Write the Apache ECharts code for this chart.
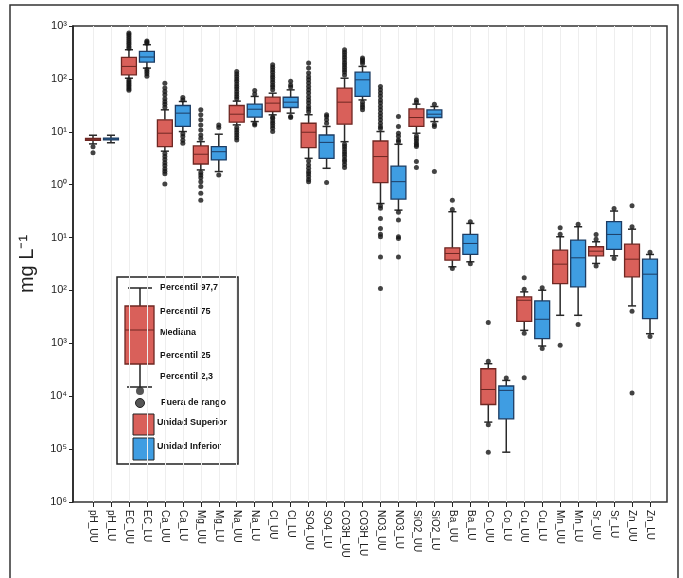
<!DOCTYPE html>
<html><head><meta charset="utf-8">
<script src="https://cdn.jsdelivr.net/npm/echarts/dist/echarts.min.js"></script>
<style>html,body{margin:0;padding:0;background:#fff}#c{width:683px;height:578px}</style>
</head><body><div id="c"></div><script>
const categories = ['pH_UU','pH_LU','EC_UU','EC_LU','Ca_UU','Ca_LU','Mg_UU','Mg_LU','Na_UU','Na_LU','Cl_UU','Cl_LU','SO4_UU','SO4_LU','CO3H_UU','CO3H_LU','NO3_UU','NO3_LU','SiO2_UU','SiO2_LU','Ba_UU','Ba_LU','Co_UU','Co_LU','Cu_UU','Cu_LU','Mn_UU','Mn_LU','Sr_UU','Sr_LU','Zn_UU','Zn_LU'];
const lowWhisker = [5.9,6.2,103,160,4.3,10.1,1.9,1.77,13.5,15.6,20.9,22.5,3.15,2.04,6.5,40,0.44,0.33,9.4,15.6,0.028,0.0348,3.24e-5,8.75e-6,1.76e-3,8.9e-4,3.39e-3,3.39e-3,0.0324,0.0452,5.1e-3,1.52e-3];
const q1 = [6.9,7.0,119,208,5.25,12.6,2.46,2.93,15.2,18.9,24.2,28.8,5.0,3.15,13.9,46.6,1.09,0.535,12.6,18.6,0.0373,0.0479,6.98e-5,3.74e-5,2.61e-3,1.23e-3,0.0135,0.0117,0.0452,0.0596,0.0181,2.94e-3];
const median = [7.2,7.3,172,259,9.4,22.5,3.76,4.2,21.5,26.7,34.8,36.3,9.8,6.3,36.3,96,3.4,1.14,18.6,21.5,0.05,0.0774,1.34e-4,1.29e-4,6.52e-3,2.85e-3,0.0314,0.0414,0.0553,0.1146,0.039,0.0203];
const q3 = [7.5,7.6,255,331,16.8,31.4,5.4,5.25,31.4,33.3,45.2,45,14.5,8.7,67,134,6.7,2.25,27.1,26,0.064,0.1146,3.31e-4,1.56e-4,7.57e-3,6.35e-3,0.0578,0.0893,0.067,0.2,0.0752,0.039];
const highWhisker = [8.6,8.6,356,443,26,37.4,6.5,9.0,38,46.6,53.7,62,21,12.6,103,172,10.1,5.8,33.3,30,0.308,0.185,4.12e-4,1.99e-4,9.4e-3,0.0101,0.1035,0.16,0.0832,0.317,0.144,0.0479];
const outliers = [
  [5.2,4.0],
  [],
  [380,410,450,490,530,580,630,690,740,95,88,82,76,70,65,61],
  [470,500,520,150,138,125,112],
  [29,33,37,42,50,58,67,83,3.9,3.4,3.0,2.6,2.3,2.0,1.8,1.6,1.03],
  [40,44.6,9.2,8.1,6.9,6.1],
  [7.5,8.7,10.8,13.5,16.8,21,26,1.7,1.52,1.35,1.14,0.92,0.69,0.51],
  [12,13.5,1.52],
  [42,46.6,52,58,65,72,80,90,100,111,124,138,12,10.8,9.7,8.7,7.8,7.0],
  [52,60,14.2,13.5],
  [62,70,77,86,96,107,119,134,149,166,185,19,18,16,14.5,13,11.7,10.1],
  [70,77,90,19.5,18.6],
  [24,27,30,35,40,46,54,62,72,84,96,110,129,160,199,2.8,2.36,2.05,1.77,1.6,1.42,1.25,1.14],
  [14.5,16.8,19.5,20.9,1.1],
  [119,135,149,166,185,205,230,256,286,320,356,5.8,5.25,4.7,4.2,3.8,3.4,3.0,2.73,2.4,2.1],
  [195,214,230,248,36,32,29,26],
  [11.5,12.6,14.5,16.8,19.5,22.5,26,30,35,40,47,54,62,72,0.40,0.36,0.23,0.149,0.115,0.104,0.043,0.0109],
  [6.5,7.0,8.2,9.4,12.6,19.5,0.3,0.214,0.104,0.096,0.043],
  [36,40,8.3,7.5,6.8,6.07,5.6,5.25,2.73,2.1],
  [33,13.8,12.6,1.77],
  [0.51,0.34,0.026],
  [0.2,0.032],
  [4.6e-4,2.47e-3,2.9e-5,8.75e-6],
  [2.2e-4],
  [0.0173,0.0105,1.55e-3,2.24e-4],
  [0.0112,8e-4],
  [0.153,0.115,9.2e-4],
  [0.178,2.26e-3],
  [0.1146,0.093,0.029],
  [0.355,0.040],
  [0.4,0.16,4.04e-3,1.15e-4],
  [0.053,1.35e-3]
];
const yTickLabels = ['10³','10²','10¹','10⁰','10¹','10²','10³','10⁴','10⁵','10⁶'];
const yTickExponents = [3,2,1,0,-1,-2,-3,-4,-5,-6];
const legendLabels = ['Percentil 97,7','Percentil 75','Mediana','Percentil 25','Percentil 2,3','Fuera de rango','Unidad Superior','Unidad Inferior'];

const RED = '#d9605a', RED_D = '#6e2722';
const BLUE = '#3f9de2', BLUE_D = '#1d3c63';
const FONT = 'Liberation Sans, Arial, sans-serif';

const boxData = categories.map((c, i) => [i, lowWhisker[i], q1[i], median[i], q3[i], highWhisker[i]]);
const outlierData = [];
outliers.forEach((arr, i) => arr.forEach(v => outlierData.push([i, v])));

function renderBox(params, api) {
  const i = api.value(0);
  const isUU = categories[i].endsWith('_UU');
  const fill = isUU ? RED : BLUE;
  const dark = isUU ? RED_D : BLUE_D;
  const lo = api.coord([i, api.value(1)]);
  const p1 = api.coord([i, api.value(2)]);
  const pm = api.coord([i, api.value(3)]);
  const p3 = api.coord([i, api.value(4)]);
  const hi = api.coord([i, api.value(5)]);
  const band = api.size([1, 1])[0];
  const bw = band * 0.83;
  const cw = band * 0.45;
  const x = lo[0];
  const wl = {stroke: '#2a2a2a', lineWidth: 1.5};
  return {
    type: 'group',
    children: [
      {type: 'line', shape: {x1: x, y1: hi[1], x2: x, y2: p3[1]}, style: wl},
      {type: 'line', shape: {x1: x, y1: p1[1], x2: x, y2: lo[1]}, style: wl},
      {type: 'line', shape: {x1: x - cw/2, y1: hi[1], x2: x + cw/2, y2: hi[1]}, style: wl},
      {type: 'line', shape: {x1: x - cw/2, y1: lo[1], x2: x + cw/2, y2: lo[1]}, style: wl},
      {type: 'rect', shape: {x: x - bw/2, y: p3[1], width: bw, height: Math.max(p1[1] - p3[1], 1.5)}, style: {fill: fill, stroke: dark, lineWidth: 1.3}},
      {type: 'line', shape: {x1: x - bw/2, y1: pm[1], x2: x + bw/2, y2: pm[1]}, style: {stroke: dark, lineWidth: 1}}
    ]
  };
}

// legend drawing
const LX = 140;
const legendEls = [
  {type: 'rect', shape: {x: 117, y: 277, width: 121, height: 187}, style: {fill: '#fff', stroke: '#222', lineWidth: 1.5}},
  {type: 'line', shape: {x1: 128, y1: 288, x2: 152, y2: 288}, style: {stroke: '#222', lineWidth: 1.5}},
  {type: 'line', shape: {x1: LX, y1: 288, x2: LX, y2: 306}, style: {stroke: '#222', lineWidth: 1.5}},
  {type: 'line', shape: {x1: LX, y1: 364, x2: LX, y2: 387}, style: {stroke: '#222', lineWidth: 1.5}},
  {type: 'rect', shape: {x: 125, y: 306, width: 29, height: 58}, style: {fill: RED, stroke: RED_D, lineWidth: 1.3}},
  {type: 'line', shape: {x1: 125, y1: 330, x2: 154, y2: 330}, style: {stroke: RED_D, lineWidth: 1}},
  {type: 'circle', shape: {cx: LX, cy: 391, r: 4}, style: {fill: '#555'}},
  {type: 'line', shape: {x1: 127, y1: 387, x2: 152, y2: 387}, style: {stroke: '#222', lineWidth: 1.5}},
  {type: 'circle', shape: {cx: LX, cy: 403, r: 4.5}, style: {fill: '#555', stroke: '#222', lineWidth: 1}},
  {type: 'rect', shape: {x: 133, y: 414, width: 21, height: 21}, style: {fill: RED, stroke: '#222', lineWidth: 1}},
  {type: 'rect', shape: {x: 133, y: 438, width: 21, height: 22}, style: {fill: BLUE, stroke: '#222', lineWidth: 1}}
];
const legendTextY = [288, 312, 333, 356, 377, 403, 423, 447];
const legendTextX = [160, 160, 160, 160, 160, 161, 157, 157];
legendLabels.forEach((t, k) => legendEls.push({
  type: 'text', x: legendTextX[k], y: legendTextY[k],
  style: {text: t, fill: '#111', font: 'bold 9px ' + FONT, textVerticalAlign: 'middle'}
}));

const chart = echarts.init(document.getElementById('c'), null, {renderer: 'canvas'});
chart.setOption({
  backgroundColor: '#fff',
  animation: false,
  grid: [
    {left: 93, right: 33, top: 26, bottom: 76},
    {left: 73, right: 16, top: 26, bottom: 76, show: true, borderColor: '#333', borderWidth: 1.5, backgroundColor: 'transparent', z: 0}
  ],
  xAxis: [
    {
      type: 'category', gridIndex: 0, data: categories, boundaryGap: false,
      axisLine: {show: false},
      axisTick: {show: true, length: 5, interval: 0, lineStyle: {color: '#222', width: 1}},
      axisLabel: {rotate: -90, interval: 0, fontSize: 10, color: '#222', margin: 8, fontFamily: FONT},
      splitLine: {show: true, interval: 0, lineStyle: {color: '#eeeeee', width: 1}}
    },
    {type: 'value', gridIndex: 1, show: false}
  ],
  yAxis: [
    {
      type: 'log', gridIndex: 0, logBase: 10, min: 1e-6, max: 1e3, interval: 1, offset: 20,
      axisLine: {show: true, lineStyle: {color: '#222', width: 1.5}},
      axisTick: {show: true, length: 4, lineStyle: {color: '#222'}},
      splitLine: {show: false},
      minorTick: {show: false},
      axisLabel: {
        fontSize: 11, color: '#222', margin: 6, fontFamily: FONT,
        formatter: v => {
          const e = Math.round(Math.log10(v));
          const k = yTickExponents.indexOf(e);
          return k >= 0 ? yTickLabels[k] : '';
        }
      },
      name: 'mg L⁻¹', nameLocation: 'middle', nameGap: 36,
      nameTextStyle: {fontSize: 20, color: '#222', fontFamily: FONT}
    },
    {type: 'value', gridIndex: 1, show: false}
  ],
  series: [
    {
      type: 'custom', xAxisIndex: 0, yAxisIndex: 0, z: 3,
      renderItem: renderBox,
      encode: {x: 0, y: [1, 2, 3, 4, 5]},
      data: boxData
    },
    {
      type: 'scatter', xAxisIndex: 0, yAxisIndex: 0, z: 4,
      symbol: 'circle', symbolSize: 5,
      itemStyle: {color: '#151515'},
      data: outlierData
    }
  ],
  graphic: [
    {type: 'polyline', shape: {points: [[10, 585], [10, 5], [678, 5], [678, 585]]}, style: {fill: 'none', stroke: '#333', lineWidth: 1.5}, silent: true},
    {type: 'group', z: 100, children: legendEls}
  ]
});
</script></body></html>
